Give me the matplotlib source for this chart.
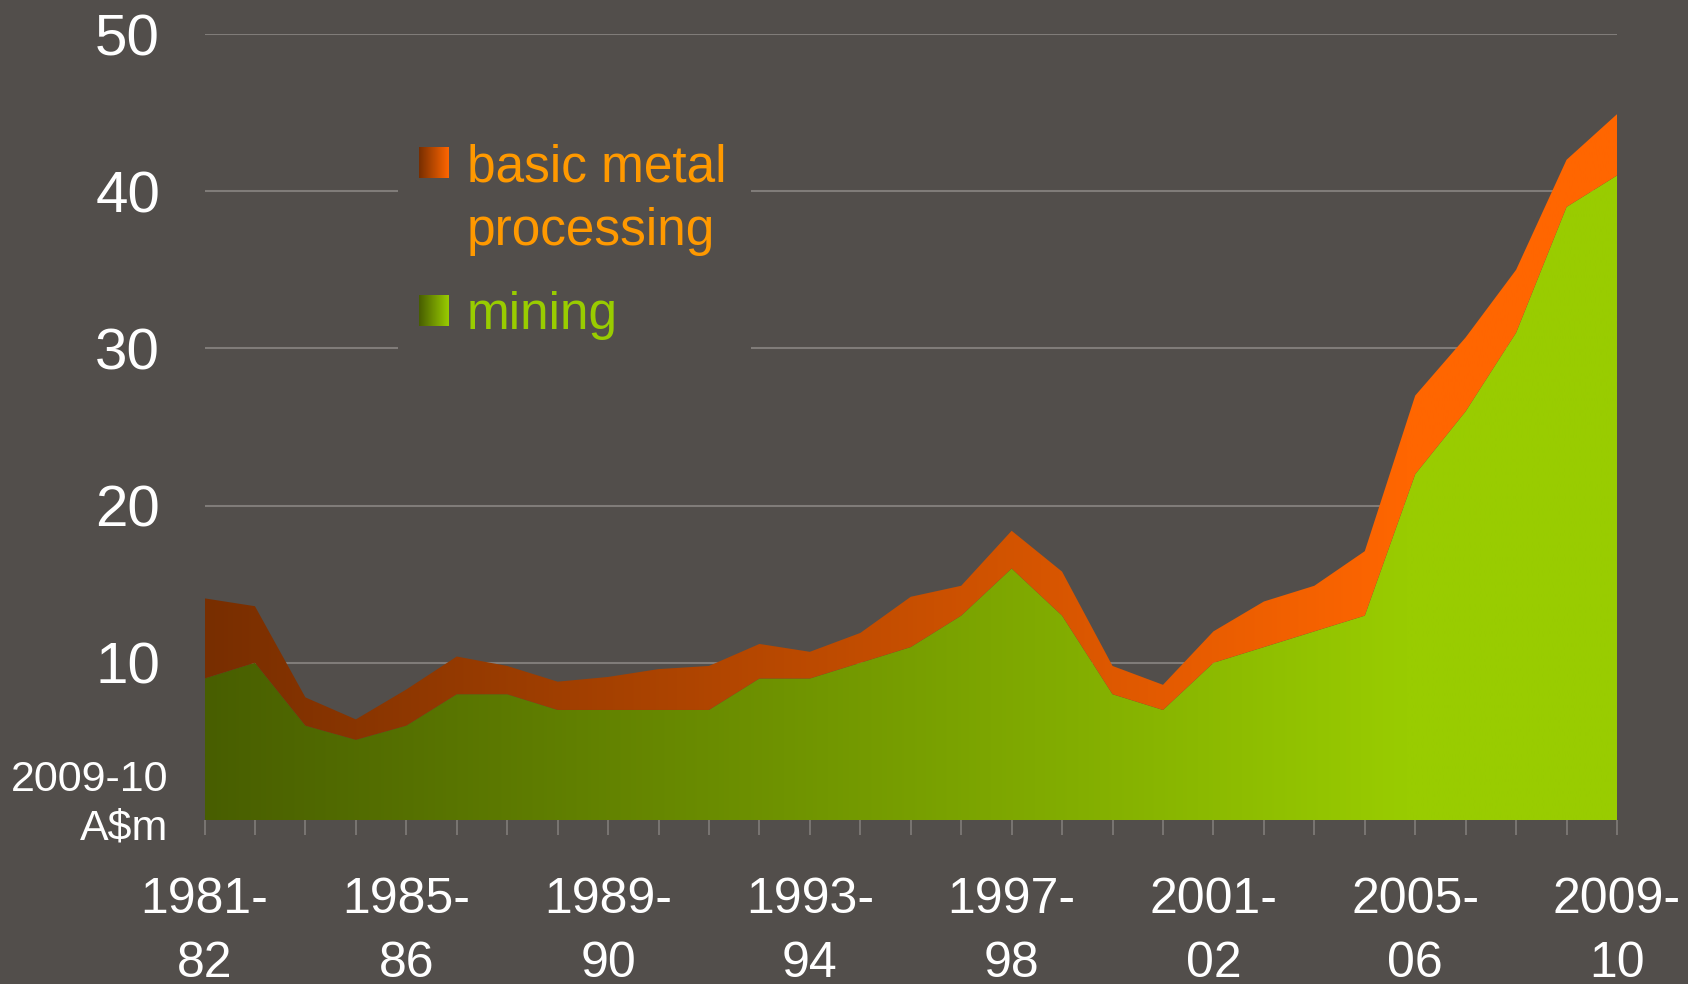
import numpy as np
import matplotlib
matplotlib.use("Agg")
import matplotlib.pyplot as plt
from matplotlib.patches import Rectangle

plt.rcParams['font.family'] = ['Liberation Sans', 'DejaVu Sans']

# data, 2009-10 A$m
years = ['1981-82', '1982-83', '1983-84', '1984-85', '1985-86', '1986-87', '1987-88',
         '1988-89', '1989-90', '1990-91', '1991-92', '1992-93', '1993-94', '1994-95',
         '1995-96', '1996-97', '1997-98', '1998-99', '1999-00', '2000-01', '2001-02',
         '2002-03', '2003-04', '2004-05', '2005-06', '2006-07', '2007-08', '2008-09',
         '2009-10']
mining = [9.0, 10.0, 6.0, 5.1, 6.0, 8.0, 8.0, 7.0, 7.0, 7.0, 7.0, 9.0, 9.0, 10.0,
          11.0, 13.0, 16.0, 13.0, 8.0, 7.0, 10.0, 11.0, 12.0, 13.0, 22.0, 26.0, 31.0,
          39.0, 41.0]
metal = [5.1, 3.6, 1.8, 1.3, 2.3, 2.4, 1.8, 1.8, 2.1, 2.6, 2.8, 2.2, 1.7, 1.9,
         3.2, 1.9, 2.4, 2.8, 1.8, 1.6, 2.0, 2.9, 2.9, 4.1, 5.0, 4.7, 4.0, 3.0, 3.9]
yticks = [10, 20, 30, 40, 50]

BG = '#524e4b'
GRID = '#807c79'

W, H = 1688, 984
fig = plt.figure(figsize=(W / 100, H / 100), dpi=100, facecolor=BG)
ax = fig.add_axes([204.5 / W, 1 - 820 / H, (1617 - 204.5) / W, (820 - 34) / H])
ax.set_facecolor(BG)

x = np.arange(len(years))
mining = np.array(mining)
total = mining + np.array(metal)


def rgb(h):
    return np.array(matplotlib.colors.to_rgb(h))


def gradient_fill(ax, x, y1, y2, c0, c1, stop=0.85):
    poly = ax.fill_between(x, y1, y2, color='none', lw=0)
    path = poly.get_paths()[0]
    t = np.clip(np.linspace(0, 1, 512) / stop, 0, 1)
    cols = rgb(c0)[None, :] * (1 - t[:, None]) + rgb(c1)[None, :] * t[:, None]
    img = ax.imshow(cols[None, :, :], extent=[x[0], x[-1], 0, 50], aspect='auto',
                    origin='lower', zorder=2, interpolation='bilinear')
    img.set_clip_path(path, transform=ax.transData)


gradient_fill(ax, x, 0, mining, '#485e00', '#99cc00')
gradient_fill(ax, x, mining, total, '#782e00', '#ff6600')

ax.set_xlim(x[0], x[-1])
ax.set_ylim(0, 50)

ax.set_yticks(yticks)
ax.set_yticklabels([str(v) for v in yticks])
ax.grid(axis='y', color=GRID, lw=1.5, zorder=1)
ax.set_axisbelow(True)
ax.tick_params(axis='y', length=0, pad=32, labelsize=42, labelcolor='white')

ax.set_xticks(x)
xlabels = [y.replace('-', '-\n') if i % 4 == 0 else '' for i, y in enumerate(years)]
ax.set_xticklabels(xlabels, linespacing=1.5)
ax.tick_params(axis='x', length=11, width=1.2, color=GRID, pad=30,
               labelsize=36, labelcolor='white')
for s in ax.spines.values():
    s.set_visible(False)

# unit label
fig.text(168 / W, 1 - 791 / H, '2009-10', ha='right', va='baseline',
         fontsize=31, color='white')
fig.text(168 / W, 1 - 840 / H, 'A$m', ha='right', va='baseline',
         fontsize=31, color='white')

# legend (box hides grid lines)
fig.add_artist(Rectangle((398 / W, 1 - 365 / H), (751 - 398) / W, (365 - 120) / H,
                         transform=fig.transFigure, facecolor=BG, edgecolor='none',
                         zorder=3))


def swatch(y_top, c0, c1):
    sax = fig.add_axes([419 / W, 1 - (y_top + 31) / H, 30 / W, 31 / H], zorder=4)
    t = np.linspace(0, 1, 64)
    cols = rgb(c0)[None, :] * (1 - t[:, None]) + rgb(c1)[None, :] * t[:, None]
    sax.imshow(cols[None, :, :], aspect='auto', interpolation='bilinear')
    sax.axis('off')


swatch(147, '#782e00', '#ff6600')
swatch(295, '#485e00', '#99cc00')
for txt, yb, c in [('basic metal', 182, '#ff9900'), ('processing', 245, '#ff9900'),
                   ('mining', 329, '#99cc00')]:
    fig.text(467 / W, 1 - yb / H, txt, ha='left', va='baseline', fontsize=37,
             color=c, zorder=5)

fig.savefig('out.png', dpi=100, facecolor=BG)
